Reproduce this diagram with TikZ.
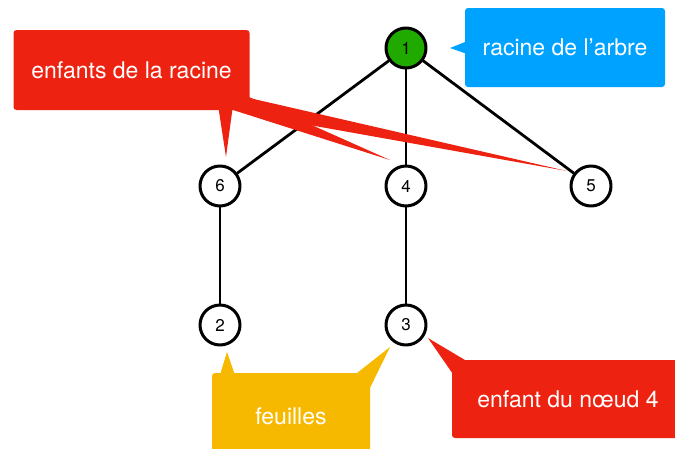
\documentclass[tikz,border=0pt]{standalone}
\usepackage{fontspec}
\setmainfont{TeX Gyre Heros}
\usetikzlibrary{positioning}

\definecolor{noteRed}{RGB}{238,34,17}
\definecolor{noteBlue}{RGB}{0,162,255}
\definecolor{noteYellow}{RGB}{247,185,0}
\definecolor{rootGreen}{RGB}{32,170,0}

\begin{document}
\begin{tikzpicture}[x=1pt, y=-1pt, line cap=round, line join=round,
  treenode/.style={circle, draw, line width=3pt, fill=white, minimum size=40pt, inner sep=0pt, font=\fontsize{17}{19}\selectfont},
  treeedge/.style={line width=2.8pt},
  notebox/.style={rounded corners=3pt, text=white, inner sep=0pt, font=\fontsize{23}{27}\selectfont}]
  % Page frame.
  \useasboundingbox (0,0) rectangle (675,448);

  % Tree nodes.
  \node[treenode, fill=rootGreen] (n1) at (406,48) {1};
  \node[treenode] (n6) at (220,186) {6};
  \node[treenode] (n4) at (406,186) {4};
  \node[treenode] (n5) at (591,186) {5};
  \node[treenode] (n2) at (220,325) {2};
  \node[treenode] (n3) at (406,325) {3};

  % Tree edges.
  \draw[treeedge] (n1) -- (n6);
  \draw[treeedge] (n1) -- (n4);
  \draw[treeedge] (n1) -- (n5);
  \draw[treeedge] (n6) -- (n2);
  \draw[treeedge] (n4) -- (n3);

  % Note "enfants de la racine": three pointers, then the box over their bases.
  \fill[noteRed] (218,105) -- (226,157) -- (233,105) -- cycle;
  \fill[noteRed] (240,93) -- (390,160) -- (233,110) -- cycle;
  \fill[noteRed] (245,97) -- (567,171) -- (245,113.5) -- cycle;
  \node[notebox, fill=noteRed, minimum width=236pt, minimum height=80pt] (childNote) at (131.5,70) {enfants de la racine};

  % Note "racine de l'arbre".
  \fill[noteBlue] (470,40) -- (450,48) -- (470,55) -- cycle;
  \node[notebox, fill=noteBlue, minimum width=200pt, minimum height=79pt] (rootNote) at (565,47.5) {racine de l’arbre};

  % Note "feuilles": box runs past the bottom edge.
  \fill[noteYellow] (219,378) -- (227,352) -- (236,378) -- cycle;
  \fill[noteYellow] (352,377) -- (390,347) -- (368,392) -- cycle;
  \node[notebox, fill=noteYellow, minimum width=158pt, minimum height=87pt] (leafNote) at (291,416.5) {feuilles};

  % Note "enfant du noeud 4": box runs past the right edge.
  \fill[noteRed] (470,363) -- (428,338) -- (455,377) -- cycle;
  \node[notebox, fill=noteRed, minimum width=232pt, minimum height=78pt] (nodeNote) at (568,399) {enfant du nœud 4};
\end{tikzpicture}
\end{document}
